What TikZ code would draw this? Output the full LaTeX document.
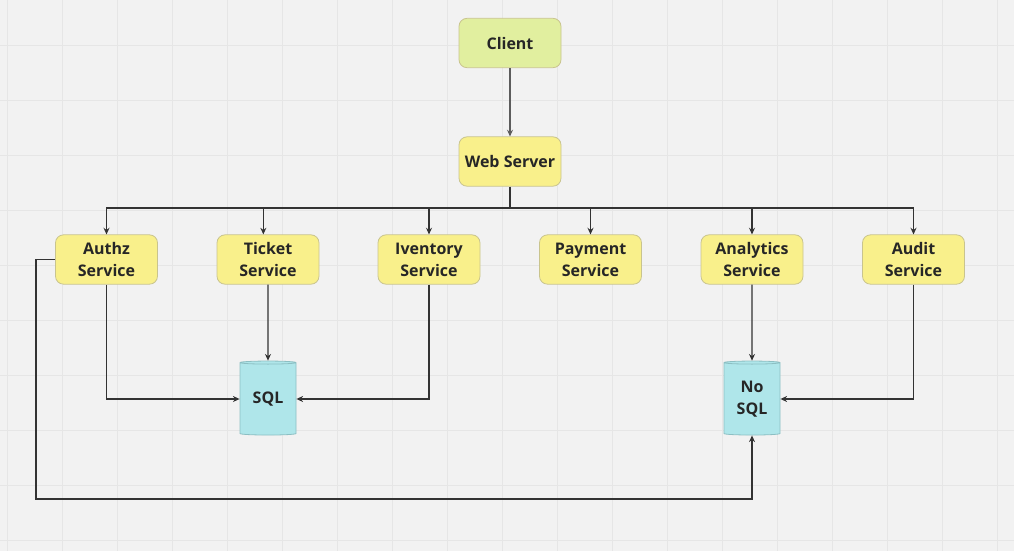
\documentclass[tikz,border=0pt]{standalone}
\usepackage{fontspec}
\setmainfont{Open Sans}
\usetikzlibrary{shapes.geometric,arrows.meta}
\definecolor{bg}{HTML}{F2F2F2}
\definecolor{gridc}{HTML}{E6E6E6}
\definecolor{clientfill}{HTML}{E1EF9F}
\definecolor{svcfill}{HTML}{F9F08B}
\definecolor{boxline}{HTML}{C9C48E}
\definecolor{dbfill}{HTML}{AFE6EA}
\definecolor{dbline}{HTML}{8CBFC3}
\definecolor{wire}{HTML}{333333}
\tikzset{
  box/.style={draw=boxline, line width=0.6pt, rounded corners=6pt, minimum width=76.5pt, minimum height=37pt, align=center, font=\bfseries\fontsize{12}{16.5}\selectfont, text=black!85, inner sep=0pt},
  svc/.style={box, fill=svcfill},
  clientbox/.style={box, fill=clientfill},
  db/.style={cylinder, shape border rotate=90, aspect=0.1, draw=dbline, line width=0.6pt, fill=dbfill, minimum width=42pt, minimum height=55.5pt, align=center, font=\bfseries\fontsize{12}{16.5}\selectfont, text=black!85, inner sep=0pt},
  wirestyle/.style={draw=wire, line width=1.1pt, -{Stealth[length=5pt,width=4.5pt]}},
  plainwire/.style={draw=wire, line width=1.1pt}
}
\begin{document}
\begin{tikzpicture}[x=0.75pt,y=-0.75pt]
\useasboundingbox (0,0) rectangle (1014,551);
\fill[bg] (0,0) rectangle (1014,551);
\foreach \i in {0,...,18} {\draw[gridc, line width=0.6pt] (7+55*\i,0) -- (7+55*\i,551);}
\foreach \j in {0,...,9} {\draw[gridc, line width=0.6pt] (0,45+55*\j) -- (1014,45+55*\j);}

\node[clientbox] (client) at (510,43) {Client};
\node[svc] (web) at (510,161.5) {Web Server};
\node[svc] (authz) at (106.5,259.5) {Authz\\Service};
\node[svc] (ticket) at (268,259.5) {Ticket\\Service};
\node[svc] (inv) at (429,259.5) {Iventory\\Service};
\node[svc] (pay) at (590.5,259.5) {Payment\\Service};
\node[svc] (ana) at (752,259.5) {Analytics\\Service};
\node[svc] (audit) at (913.5,259.5) {Audit\\Service};
\node[db] (sql) at (268,399) {SQL};
\node[db] (nosql) at (752,399) {No\\SQL};

\coordinate (bus) at (510,208);
\draw[wirestyle, draw=wire!80] (client) -- (web);
\draw[plainwire] (web.south) -- (bus);
\draw[wirestyle] (bus) -| (authz.north);
\draw[wirestyle] (bus) -| ([xshift=-3.5pt]ticket.north);
\draw[wirestyle] (bus) -| (inv.north);
\draw[wirestyle] (bus) -| (pay.north);
\draw[wirestyle] (bus) -| (ana.north);
\draw[wirestyle] (bus) -| (audit.north);

\draw[wirestyle] (ticket.south) -- (sql.north);
\draw[wirestyle] (authz.south) |- (sql.west);
\draw[wirestyle] (inv.south) |- (sql.east);
\draw[wirestyle] (ana.south) -- (nosql.north);
\draw[wirestyle] (audit.south) |- (nosql.east);
\coordinate (c1) at (36,259.5);
\coordinate (c2) at (36,499);
\draw[wirestyle] (authz.west) -- (c1) -- (c2) -| (nosql.south);
\end{tikzpicture}
\end{document}
